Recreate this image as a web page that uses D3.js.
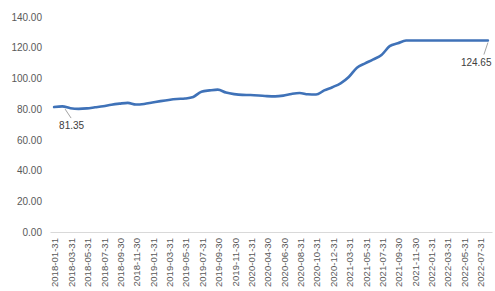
<!DOCTYPE html>
<html>
<head>
<meta charset="utf-8">
<script src="https://cdn.jsdelivr.net/npm/d3@7"></script>
<style>
  html, body { margin: 0; padding: 0; background: #fff; }
  svg { display: block; font-family: "Liberation Sans", Arial, sans-serif; }
</style>
</head>
<body>
<svg id="chart" width="495" height="291"></svg>
<script>
const categories = [
  "2018-01-31","2018-02-28","2018-03-31","2018-04-30","2018-05-31","2018-06-30",
  "2018-07-31","2018-08-31","2018-09-30","2018-10-31","2018-11-30","2018-12-31",
  "2019-01-31","2019-02-28","2019-03-31","2019-04-30","2019-05-31","2019-06-30",
  "2019-07-31","2019-08-31","2019-09-30","2019-10-31","2019-11-30","2019-12-31",
  "2020-01-31","2020-03-31","2020-04-30","2020-05-31","2020-06-30","2020-07-31",
  "2020-08-31","2020-09-30","2020-10-31","2020-11-30","2020-12-31","2021-01-31",
  "2021-03-31","2021-04-30","2021-05-31","2021-06-30","2021-07-31","2021-08-31",
  "2021-09-30","2021-10-31","2021-11-30","2021-12-31","2022-01-31","2022-02-28",
  "2022-03-31","2022-04-30","2022-05-31","2022-06-30","2022-07-31","2022-08-31"
];
const values = [
  81.35, 81.8, 80.6, 80.2, 80.5, 81.2,
  81.9, 82.9, 83.6, 84.1, 83.0, 83.4,
  84.3, 85.2, 86.0, 86.6, 86.9, 87.9,
  91.4, 92.2, 92.7, 90.8, 89.8, 89.3,
  89.2, 88.9, 88.5, 88.3, 88.8, 89.9,
  90.5, 89.7, 89.5, 92.2, 94.3, 96.8,
  100.9, 107.0, 109.8, 112.4, 115.3, 121.0,
  122.9, 124.65, 124.65, 124.65, 124.65, 124.65,
  124.65, 124.65, 124.65, 124.65, 124.65, 124.65
];
const yTicks = [0, 20, 40, 60, 80, 100, 120, 140];
const labelledPoints = [0, 53];

const svg = d3.select("#chart");
const margin = { left: 50, right: 3, top: 17, bottom: 59 };
const W = 495, H = 291;

const x = d3.scaleBand()
  .domain(categories)
  .range([margin.left, W - margin.right])
  .paddingInner(0).paddingOuter(0);
const y = d3.scaleLinear()
  .domain([0, 140])
  .range([H - margin.bottom, margin.top]);

const cx = d => x(d) + x.bandwidth() / 2;

// y axis labels
const yAxis = d3.axisLeft(y).tickValues(yTicks).tickFormat(d3.format(".2f")).tickSize(0).tickPadding(8);
const gy = svg.append("g").attr("transform", `translate(${margin.left},0)`).call(yAxis);
gy.select(".domain").remove();
gy.selectAll("text").attr("fill", "#595959").style("font-size", "10px");

// x axis
const xAxis = d3.axisBottom(x)
  .tickValues(categories.filter((d, i) => i % 2 === 0))
  .tickSize(0);
const gx = svg.append("g").attr("transform", `translate(0,${y(0)})`).call(xAxis);
gx.select(".domain").attr("stroke", "#d9d9d9").attr("stroke-width", 1.2);
gx.selectAll("text")
  .attr("fill", "#595959")
  .style("font-size", "9.6px")
  .attr("text-anchor", "end")
  .attr("transform", "rotate(-90)")
  .attr("x", -6)
  .attr("y", 1)
  .attr("dy", "0.35em");

// line
const line = d3.line()
  .x((d, i) => cx(categories[i]))
  .y(d => y(d))
  .curve(d3.curveMonotoneX);

svg.append("path")
  .datum(values)
  .attr("fill", "none")
  .attr("stroke", "#3f72b8")
  .attr("stroke-width", 2.6)
  .attr("stroke-linejoin", "round")
  .attr("stroke-linecap", "round")
  .attr("d", line);

// data labels with leader lines
const labelCfg = {
  0:  { dx1: 11, dy1: 2, dx2: 17, dy2: 11, tx: 5, ty: 22, anchor: "start" },
  53: { dx1: 0,  dy1: 2, dx2: -4, dy2: 14, tx: -27, ty: 25, anchor: "start" }
};
labelledPoints.forEach(i => {
  const c = labelCfg[i];
  const px = cx(categories[i]), py = y(values[i]);
  svg.append("line")
    .attr("x1", px + c.dx1).attr("y1", py + c.dy1)
    .attr("x2", px + c.dx2).attr("y2", py + c.dy2)
    .attr("stroke", "#8c8c8c").attr("stroke-width", 0.8);
  svg.append("text")
    .attr("x", px + c.tx).attr("y", py + c.ty)
    .attr("text-anchor", c.anchor)
    .attr("fill", "#404040")
    .style("font-size", "10px")
    .text(values[i].toFixed(2));
});
</script>
</body>
</html>
